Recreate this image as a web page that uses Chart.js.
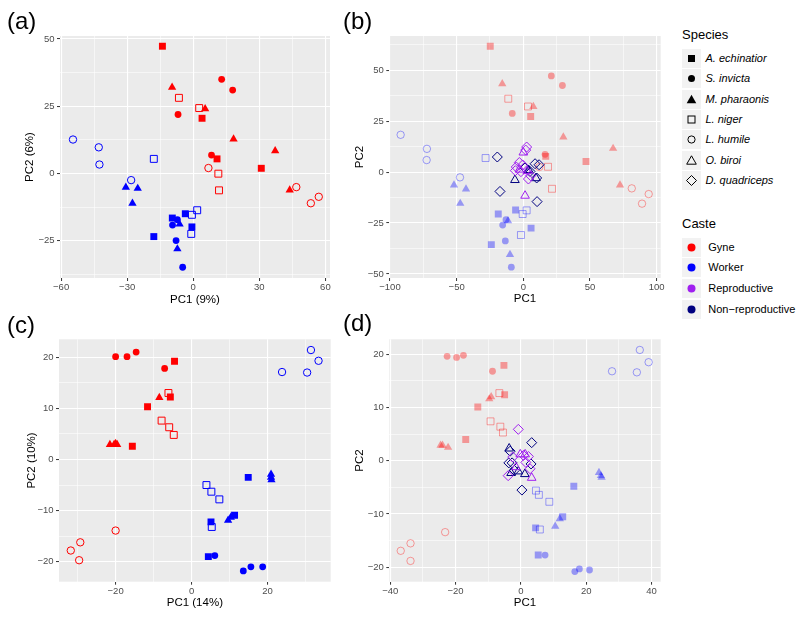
<!DOCTYPE html>
<html>
<head>
<meta charset="utf-8">
<script src="https://cdn.jsdelivr.net/npm/chart.js@4/dist/chart.umd.min.js"></script>
<style>
  body { margin: 0; background: #fff; width: 800px; height: 617px; position: relative; overflow: hidden;
         font-family: "Liberation Sans", Arial, Helvetica, sans-serif; }
  canvas { position: absolute; }
  .tag { position: absolute; font-size: 24px; line-height: 24px; color: #000; }
  .lt { position: absolute; left: 682px; font-size: 13px; line-height: 14px; color: #000; }
  .lk { position: absolute; left: 682px; width: 19px; height: 19px; background: #F2F2F2; }
  .ll { position: absolute; font-size: 11px; line-height: 12px; color: #000; white-space: nowrap; }
</style>
</head>
<body>
<canvas id="cA" width="340" height="310" style="left:0;top:0"></canvas>
<canvas id="cB" width="330" height="310" style="left:340px;top:0"></canvas>
<canvas id="cC" width="340" height="307" style="left:0;top:310px"></canvas>
<canvas id="cD" width="330" height="307" style="left:340px;top:310px"></canvas>
<div class="tag" style="left:7px;top:9px">(a)</div>
<div class="tag" style="left:343px;top:9px">(b)</div>
<div class="tag" style="left:7px;top:313px">(c)</div>
<div class="tag" style="left:343px;top:311px">(d)</div>
<div id="legend"></div>
<script>
/* ---- datos: [especie, PC1, PC2] por panel y casta ---- */
const aGyne = [
  ['Ae', -14, 47.3], ['Ae', 4, 20.5], ['Ae', 10.8, 5.4], ['Ae', 30.9, 1.9],
  ['Si', 12.9, 35], ['Si', 17.9, 31], ['Si', -6.9, 21.9], ['Si', 8.3, 6.8],
  ['Mp', -9.6, 32], ['Mp', 5.4, 24], ['Mp', 18.3, 12.8], ['Mp', 37.2, 8.4], ['Mp', 43.8, -6.2],
  ['Ln', -6.5, 28.1], ['Ln', 2.7, 24.3], ['Ln', 11.4, -0.1], ['Ln', 11.7, -6.3],
  ['Lh', 6.9, 2.0], ['Lh', 46.8, -5.1], ['Lh', 53.4, -11.1], ['Lh', 57, -8.7],
];
const aWorker = [
  ['Lh', -54.6, 12.6], ['Lh', -42.9, 9.7], ['Lh', -42.6, 3.3], ['Lh', -28.2, -2.5],
  ['Mp', -30.6, -5.2], ['Mp', -25.2, -5.6], ['Mp', -27.6, -11.1], ['Mp', -6.2, -18.9], ['Mp', -7.2, -28.1],
  ['Ae', -9.5, -16.6], ['Ae', -3.6, -15], ['Ae', -0.6, -19.9], ['Ae', -17.9, -23.5],
  ['Si', -7.2, -17.2], ['Si', -9.4, -19.2], ['Si', -7.8, -25], ['Si', -4.8, -34.9],
  ['Ln', -17.9, 5.4], ['Ln', 1.8, -13.7], ['Ln', -0.6, -15.4], ['Ln', -0.9, -22.5],
];
const bGyne = [
  ['Ae', -24.8, 61.8], ['Ae', 5.5, 27.3], ['Ae', 47, 5.2], ['Ae', 16.8, 7.7],
  ['Si', 21, 47.2], ['Si', 29.3, 42.5], ['Si', -8.3, 28.8], ['Si', 16.3, 8.7],
  ['Mp', -15.8, 43.3], ['Mp', 7.5, 32.2], ['Mp', 30, 17.2], ['Mp', 67.3, 11.6], ['Mp', 72.5, -6.4],
  ['Ln', -11.3, 36], ['Ln', 3.5, 32.2], ['Ln', 18.5, 2.6], ['Ln', 21.5, -8.2],
  ['Lh', 12, 2.5], ['Lh', 81.3, -8], ['Lh', 89, -15.5], ['Lh', 94, -10.8],
];
const bWorker = [
  ['Lh', -92, 18.3], ['Lh', -72.3, 11.4], ['Lh', -72.5, 5.9], ['Lh', -47.5, -2.6],
  ['Mp', -52, -6.4], ['Mp', -43, -8.3], ['Mp', -47.3, -15.4], ['Mp', -11.5, -23.9], ['Mp', -10, -40.5],
  ['Ae', -18.8, -20.6], ['Ae', -5.8, -18.6], ['Ae', 5.8, -27.5], ['Ae', -24, -35.6],
  ['Si', -13, -23.4], ['Si', -15.5, -26], ['Si', -13.5, -33.8], ['Si', -9, -46.7],
  ['Ln', -28.3, 6.9], ['Ln', 2.5, -18.8], ['Ln', -0.5, -20.6], ['Ln', -1.8, -30.9],
];
const bRepro = [
  ['Dq', 2.5, 12.3], ['Dq', 1.8, 10.8], ['Dq', -3, 4.7], ['Dq', -5.3, 2.5], ['Dq', -6, 0.7],
  ['Dq', -1.8, 0.2], ['Dq', 3.8, -3.4], ['Dq', 5.5, -1.8], ['Dq', -0.5, 3.5],
  ['Ob', 0, 9.6], ['Ob', 1.3, -11.6], ['Ob', -3, 1.2], ['Ob', 3, 0.5],
];
const bNonRepro = [
  ['Dq', -19.5, 7.4], ['Dq', -17.5, -9.5], ['Dq', 10.3, -14.5], ['Dq', 8.8, 4.1], ['Dq', 11.8, 3.6],
  ['Dq', 1.2, 2], ['Dq', 5, 0.3], ['Dq', 10, -2.9],
  ['Ob', -6.3, -3.9], ['Ob', 9.5, -3], ['Ob', 4, 1],
];
const cGyne = [
  ['Si', -20, 20.1], ['Si', -17, 20.1], ['Si', -14.6, 21], ['Si', -7.1, 17.8],
  ['Ae', -4.5, 19.2], ['Ae', -5.6, 12.2], ['Ae', -11.6, 10.3], ['Ae', -15.6, 2.6],
  ['Mp', -8.5, 12.1], ['Mp', -21.5, 2.9], ['Mp', -20.4, 2.9], ['Mp', -19.6, 2.9], ['Mp', -20, 3.1],
  ['Ln', -6.1, 13], ['Ln', -7.9, 7.6], ['Ln', -5.9, 6.3], ['Ln', -4.7, 4.8],
  ['Lh', -20, -13.9], ['Lh', -29.3, -16.2], ['Lh', -31.8, -17.8], ['Lh', -29.6, -19.7],
];
const cWorker = [
  ['Lh', 23.8, 17.1], ['Lh', 31.4, 21.4], ['Lh', 33.4, 19.3], ['Lh', 30.4, 17],
  ['Ae', 14.9, -3.5], ['Ae', 11.3, -10.9], ['Ae', 5.1, -12.2], ['Ae', 4.4, -19],
  ['Mp', 20.9, -2.9], ['Mp', 20.9, -3.5], ['Mp', 21, -4], ['Mp', 9.6, -11.9], ['Mp', 10.3, -11.3],
  ['Si', 6.1, -18.8], ['Si', 13.6, -21.8], ['Si', 15.6, -21], ['Si', 18.7, -21],
  ['Ln', 3.9, -5], ['Ln', 5.2, -6.3], ['Ln', 7.3, -7.8], ['Ln', 5.3, -13.2],
];
const dGyne = [
  ['Si', -22.6, 19.6], ['Si', -19.7, 19.4], ['Si', -17.6, 19.8], ['Si', -8.7, 16.8],
  ['Ae', -5.2, 17.9], ['Ae', -5, 12.4], ['Ae', -13.2, 10.1], ['Ae', -16.9, 4],
  ['Mp', -9.7, 11.6], ['Mp', -9.1, 12], ['Mp', -24.6, 2.9], ['Mp', -24, 2.9], ['Mp', -22.3, 2.5],
  ['Ln', -6.6, 12.7], ['Ln', -9.3, 7.4], ['Ln', -6.3, 6.4], ['Ln', -5.5, 5.3],
  ['Lh', -23.2, -13.4], ['Lh', -33.8, -15.5], ['Lh', -36.8, -16.9], ['Lh', -33.8, -18.8],
];
const dWorker = [
  ['Lh', 27.9, 16.8], ['Lh', 36.4, 20.8], ['Lh', 39.1, 18.5], ['Lh', 35.5, 16.6],
  ['Ae', 16.2, -4.8], ['Ae', 12.8, -10.5], ['Ae', 4.5, -12.6], ['Ae', 5.3, -17.7],
  ['Mp', 23.9, -2.2], ['Mp', 24.7, -3.1], ['Mp', 24.5, -2.8], ['Mp', 11.9, -10.9], ['Mp', 10.5, -12.3],
  ['Si', 7.4, -17.7], ['Si', 16.5, -20.8], ['Si', 17.9, -20.3], ['Si', 21, -20.5],
  ['Ln', 4.6, -5.6], ['Ln', 5.5, -6.4], ['Ln', 8.7, -7.7], ['Ln', 5.8, -12.9],
];
const dRepro = [
  ['Dq', -0.8, 5.9], ['Dq', -3.9, -2.8], ['Dq', 0.8, 1], ['Dq', 2.3, 0.8], ['Dq', 1.5, -0.3],
  ['Dq', -2.5, 0.7], ['Dq', 2.8, -1.5],
  ['Ob', -0.2, 1.2], ['Ob', 1.3, 1.2], ['Ob', 3.3, -3.2], ['Ob', -1.5, -1.2],
];
const dNonRepro = [
  ['Dq', 3.3, 3.4], ['Dq', -3.3, 1.8], ['Dq', -3.7, -0.4], ['Dq', -2.7, -0.4], ['Dq', 3.1, -0.6],
  ['Dq', 0.3, -5.5], ['Dq', -2, -1.8],
  ['Ob', -3.6, 2.3], ['Ob', -0.8, -2], ['Ob', 1.2, -2.5], ['Ob', -3, -2.3],
];

/* ---- estilos ---- */
const SPECIES = ['Ae', 'Si', 'Mp', 'Ln', 'Lh', 'Ob', 'Dq'];
const SP = {
  Ae: { label: 'A. echinatior', shape: 'rect',     fill: true,  r: 4.9 },
  Si: { label: 'S. invicta',    shape: 'circle',   fill: true,  r: 3.4 },
  Mp: { label: 'M. pharaonis',  shape: 'triangle', fill: true,  r: 4.8 },
  Ln: { label: 'L. niger',      shape: 'rect',     fill: false, r: 4.9 },
  Lh: { label: 'L. humile',     shape: 'circle',   fill: false, r: 3.7 },
  Ob: { label: 'O. biroi',      shape: 'triangle', fill: false, r: 5.0 },
  Dq: { label: 'D. quadriceps', shape: 'rectRot',  fill: false, r: 5.0 },
};
const CASTES = ['Gyne', 'Worker', 'Reproductive', 'Non\u2212reproductive'];
const CASTE_RGB = ['255,0,0', '0,0,255', '160,32,240', '0,0,128'];

const panels = [
  { id: 'cA', xt: 'PC1 (9%)', yt: 'PC2 (6%)', xr: [-60.5, 62.1, 30], yr: [-38.9, 51.1, 25],
    w: 340, h: 310, box: { l: 60, r: 330, t: 36, b: 278 }, xPad: 3.1, yPad: 23.1, fade: false,
    groups: [[0, aGyne], [1, aWorker]] },
  { id: 'cB', xt: 'PC1', yt: 'PC2', xr: [-100.5, 103, 50], yr: [-52, 66.8, 25],
    w: 330, h: 310, box: { l: 49.3, r: 320.7, t: 36, b: 278 }, xPad: 3.8, yPad: 13.1, fade: true,
    groups: [[0, bGyne], [1, bWorker], [2, bRepro], [3, bNonRepro]] },
  { id: 'cC', xt: 'PC1 (14%)', yt: 'PC2 (10%)', xr: [-34.9, 36.6, 20], yr: [-23.9, 23.5, 10],
    w: 340, h: 307, box: { l: 59, r: 330.7, t: 29.3, b: 271.7 }, xPad: 6.8, yPad: 24.8, fade: false,
    groups: [[0, cGyne], [1, cWorker]] },
  { id: 'cD', xt: 'PC1', yt: 'PC2', xr: [-40.3, 42.8, 20], yr: [-22.7, 22.8, 10],
    w: 330, h: 307, box: { l: 49.3, r: 320.7, t: 29.3, b: 271.7 }, xPad: 7.4, yPad: 13.1, fade: true,
    groups: [[0, dGyne], [1, dWorker], [2, dRepro], [3, dNonRepro]] },
];

Chart.defaults.font.family = '"Liberation Sans", Arial, Helvetica, sans-serif';

const fmtTick = v => (v < 0 ? '\u2212' + Math.abs(v) : String(v));

/* ticks mayores + menores (mitad de paso), como ggplot */
function gridTicks(min, max, step) {
  const half = step / 2, out = [];
  for (let v = Math.ceil(min / half) * half; v <= max + 1e-9; v += half) {
    const minor = Math.abs(Math.round(v / step) * step - v) > 1e-9;
    out.push({ value: +v.toFixed(6), minor });
  }
  return out;
}

const bgPlugin = {
  id: 'panelBg',
  beforeDraw(c) {
    const { ctx, chartArea: a } = c;
    ctx.save(); ctx.fillStyle = '#EBEBEB';
    ctx.fillRect(a.left, a.top, a.right - a.left, a.bottom - a.top);
    ctx.restore();
  },
};

function axis(p, horiz) {
  const [min, max, step] = horiz ? p.xr : p.yr;
  return {
    type: 'linear', min, max,
    afterBuildTicks: s => { s.ticks = gridTicks(min, max, step); },
    afterFit: s => { if (horiz) s.height = p.h - p.box.b; else s.width = p.box.l; },
    ticks: {
      autoSkip: false, maxRotation: 0, padding: horiz ? 1 : 2.5, color: '#4D4D4D', font: { size: 9.5 },
      callback: (v, i, t) => (t[i] && t[i].minor ? '' : fmtTick(v)),
    },
    grid: {
      color: '#FFFFFF',
      lineWidth: c => (c.tick && c.tick.minor ? 0.55 : 1.1),
      tickColor: c => (c.tick && c.tick.minor ? 'rgba(0,0,0,0)' : '#333333'),
      tickLength: 3, tickWidth: 1,
    },
    border: { display: false },
    title: {
      display: true, text: horiz ? p.xt : p.yt, color: '#000', font: { size: 11.5 },
      padding: horiz ? { top: 0, bottom: p.xPad } : { top: p.yPad, bottom: 0 },
    },
  };
}

function datasetsFor(p) {
  const out = [];
  p.groups.forEach(([ci, rows]) => {
    const faded = p.fade && ci < 2;
    const col = `rgba(${CASTE_RGB[ci]},${faded ? 0.36 : 1})`;
    SPECIES.forEach(code => {
      const pts = rows.filter(r => r[0] === code).map(r => ({ x: r[1], y: r[2] }));
      if (!pts.length) return;
      const s = SP[code];
      out.push({
        label: CASTES[ci] + ' ' + s.label, data: pts, order: ci < 2 ? 1 : 0,
        pointStyle: s.shape, pointRadius: s.r,
        pointBackgroundColor: s.fill ? col : 'rgba(0,0,0,0)',
        pointBorderColor: col, pointBorderWidth: s.fill ? 0 : 1,
      });
    });
  });
  return out;
}

panels.forEach(p => {
  new Chart(document.getElementById(p.id), {
    type: 'scatter',
    data: { datasets: datasetsFor(p) },
    options: {
      responsive: false, animation: false, events: [],
      layout: { padding: { left: 0, top: p.box.t, right: p.w - p.box.r, bottom: 0 } },
      plugins: { legend: { display: false }, tooltip: { enabled: false } },
      scales: { x: axis(p, true), y: axis(p, false) },
    },
    plugins: [bgPlugin],
  });
});

/* ---- leyenda (HTML + SVG) ---- */
function icon(code) {
  const s = SP[code], st = s.fill ? 'fill="#000"' : 'fill="none" stroke="#000" stroke-width="1"';
  if (s.shape === 'rect') return `<rect x="6" y="6" width="7" height="7" ${st}/>`;
  if (s.shape === 'circle') return `<circle cx="9.5" cy="9.5" r="${s.fill ? 3.5 : 3.6}" ${st}/>`;
  if (s.shape === 'triangle') return `<polygon points="9.5,4.8 14.3,13.2 4.7,13.2" ${st}/>`;
  return `<polygon points="9.5,4.5 14.5,9.5 9.5,14.5 4.5,9.5" ${st}/>`;
}
let html = `<div class="lt" style="top:28px">Species</div>`;
SPECIES.forEach((code, i) => {
  const cy = 58.3 + i * 20.4;
  html += `<div class="lk" style="top:${cy - 9.5}px"><svg width="19" height="19">${icon(code)}</svg></div>`;
  html += `<div class="ll" style="left:705.5px;top:${cy - 6.5}px;font-style:italic">${SP[code].label}</div>`;
});
html += `<div class="lt" style="top:217px">Caste</div>`;
CASTES.forEach((name, i) => {
  const cy = 247 + i * 20.7;
  html += `<div class="lk" style="top:${cy - 9.5}px"><svg width="19" height="19"><circle cx="9.5" cy="9.5" r="4" fill="rgb(${CASTE_RGB[i]})"/></svg></div>`;
  html += `<div class="ll" style="left:708.3px;top:${cy - 6.5}px">${name}</div>`;
});
document.getElementById('legend').innerHTML = html;
</script>
</body>
</html>
